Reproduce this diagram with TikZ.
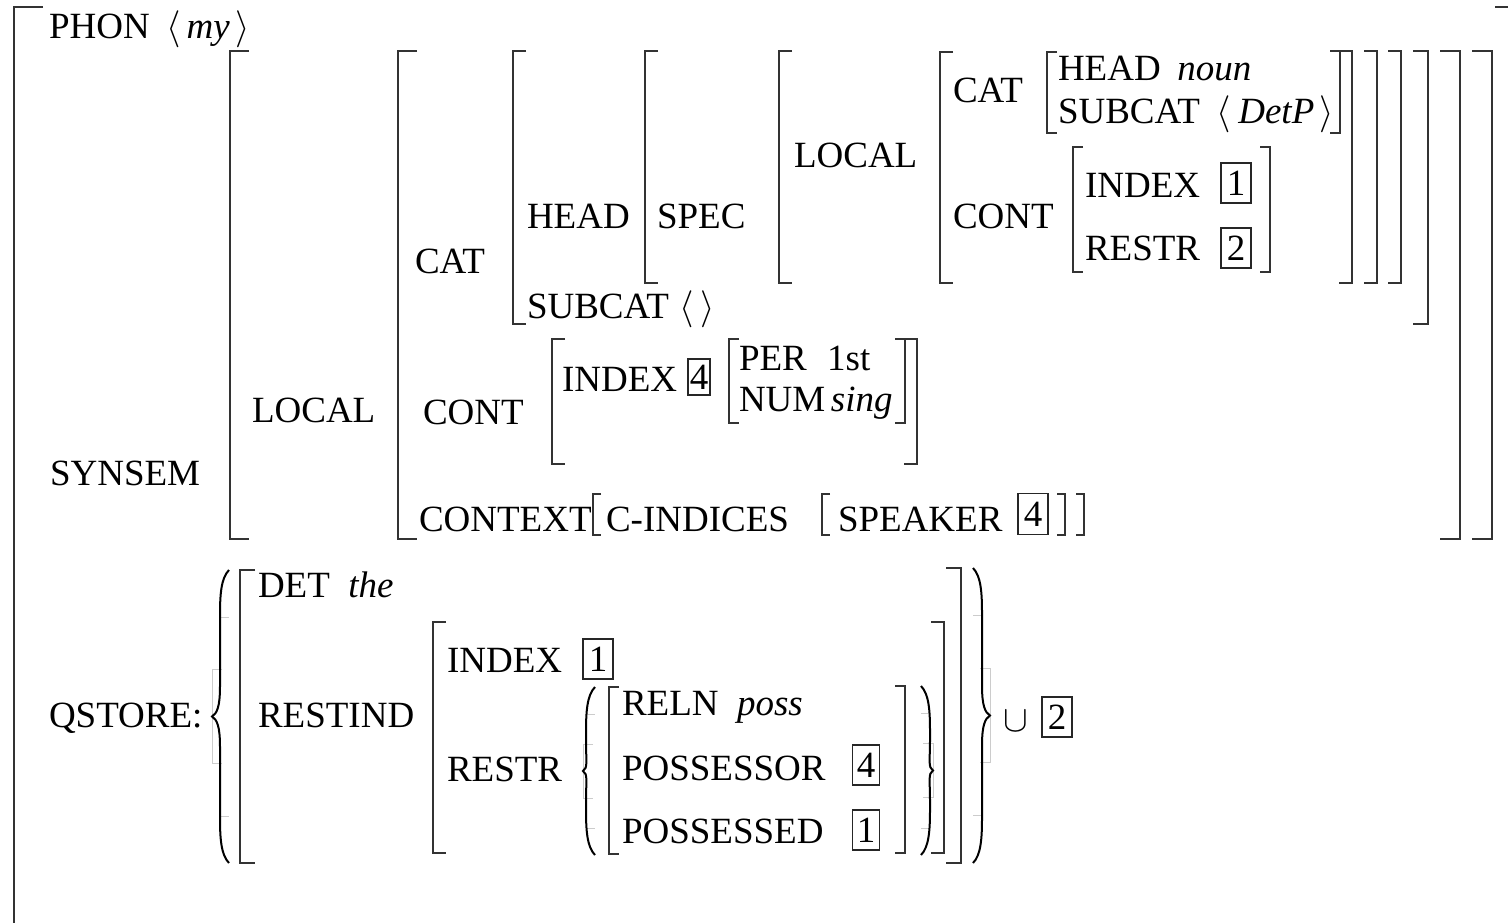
\documentclass[tikz,border=0pt]{standalone}
\usepackage{fix-cm}
\usepackage{fontspec}
\setmainfont{Liberation Serif}
\usetikzlibrary{positioning}
\tikzset{
    every picture/.style={line join=miter},
    feat/.style={anchor=base west,inner sep=0pt,outer sep=0pt},
    brk/.style={draw=black!80,line width=1.2pt},
    brc/.style={draw=black,line width=2pt},
    seam/.style={draw=black!20,line width=0.7pt},
    tagbox/.style={draw=black!85,line width=1.2pt,minimum width=30pt,
      minimum height=40pt,inner sep=0pt}
}
% square brackets: [tick]{x}{top}{bottom}
\newcommand{\brkL}[4][13]{\draw[brk] (#2+#1,#3) -- (#2,#3) -- (#2,#4) -- (#2+#1,#4);}
\newcommand{\brkR}[4][13]{\draw[brk] (#2-#1,#3) -- (#2,#3) -- (#2,#4) -- (#2-#1,#4);}
% curly braces: [width]{tip x}{top}{bottom}
\newcommand{\braceL}[4][17]{%
  \pgfmathsetmacro\bm{(#3+#4)/2}\pgfmathsetmacro\bs{0.16*(#4-#3)}
  \draw[seam] (#2+#1-8,#3+\bs) -- (#2+#1,#3+\bs) (#2+#1-8,#4-\bs) -- (#2+#1,#4-\bs)
    (#2+10,\bm-\bs) -- (#2,\bm-\bs) -- (#2,\bm+\bs) -- (#2+10,\bm+\bs);
  \draw[brc] (#2+#1,#3) .. controls (#2+#1-8,#3+8) and (#2+#1-9,#3+25) .. (#2+#1-9,#3+45)
    -- (#2+#1-9,\bm-30) .. controls (#2+#1-9,\bm-10) and (#2+5,\bm-3) .. (#2,\bm)
    .. controls (#2+5,\bm+3) and (#2+#1-9,\bm+10) .. (#2+#1-9,\bm+30)
    -- (#2+#1-9,#4-45) .. controls (#2+#1-9,#4-25) and (#2+#1-8,#4-8) .. (#2+#1,#4);}
\newcommand{\braceR}[4][17]{%
  \pgfmathsetmacro\bm{(#3+#4)/2}\pgfmathsetmacro\bs{0.16*(#4-#3)}
  \draw[seam] (#2-#1+8,#3+\bs) -- (#2-#1,#3+\bs) (#2-#1+8,#4-\bs) -- (#2-#1,#4-\bs)
    (#2-10,\bm-\bs) -- (#2,\bm-\bs) -- (#2,\bm+\bs) -- (#2-10,\bm+\bs);
  \draw[brc] (#2-#1,#3) .. controls (#2-#1+8,#3+8) and (#2-#1+9,#3+25) .. (#2-#1+9,#3+45)
    -- (#2-#1+9,\bm-30) .. controls (#2-#1+9,\bm-10) and (#2-5,\bm-3) .. (#2,\bm)
    .. controls (#2-5,\bm+3) and (#2-#1+9,\bm+10) .. (#2-#1+9,\bm+30)
    -- (#2-#1+9,#4-45) .. controls (#2-#1+9,#4-25) and (#2-#1+8,#4-8) .. (#2-#1,#4);}

\begin{document}
\begin{tikzpicture}[x=1pt,y=-1pt,font=\fontsize{37}{44}\selectfont]
  \useasboundingbox (0,0) rectangle (1508,922);

  % outermost sign
  \draw[brk] (43,7) -- (14,7) -- (14,940);
  \draw[brk] (1495,7) -- (1516,7) -- (1516,940);
  \node[feat] (phon) at (49,38) {PHON};
  \node[feat] (my) at (166,38) {$\langle$\,\textit{my}\,$\rangle$};

  % SYNSEM | LOCAL
  \node[feat] (synsem) at (50,485) {SYNSEM};
  \brkL[19]{230}{51}{539} \brkR[20]{1492}{51}{539}
  \node[feat] (local) at (252,422) {LOCAL};
  \brkL[19]{398}{51}{539} \brkR[20]{1460}{51}{539}

  % CAT
  \node[feat] (cat) at (415,273) {CAT};
  \brkL{513}{51}{324} \brkR[15]{1428}{51}{324}
  \node[feat] (head) at (527,228) {HEAD};
  \brkL{645}{51}{283} \brkR{1401}{51}{283}
  \node[feat] (spec) at (657,228) {SPEC};
  \brkL{779}{51}{283} \brkR{1377}{51}{283}
  \node[feat] (local2) at (794,167) {LOCAL};
  \brkL{940}{52}{283} \brkR{1352}{51}{283}
  \node[feat] (cat2) at (953,102) {CAT};
  \brkL[10]{1047}{52}{133} \brkR[10]{1340}{51}{133}
  \node[feat] (head2) at (1058,80) {HEAD\hspace{0.45em}\textit{noun}};
  \node[feat] (subcat2) at (1058,123)
    {SUBCAT\hspace{0.45em}$\langle$\hspace{0.2em}\textit{DetP}\hspace{0.15em}$\rangle$};
  \node[feat] (cont2) at (953,228) {CONT};
  \brkL[10]{1073}{147}{272} \brkR[10]{1270}{147}{272}
  \node[feat] (index2) at (1085,197) {INDEX};
  \node[tagbox] (tag1) at (1236,183) {1};
  \node[feat] (restr2) at (1085,260) {RESTR};
  \node[tagbox] (tag2) at (1236,248) {2};
  \node[feat] (subcat) at (527,318) {SUBCAT\hspace{0.3em}$\langle\,\rangle$};

  % CONT
  \node[feat] (cont) at (423,424) {CONT};
  \brkL{552}{339}{464} \brkR{917}{339}{464}
  \node[feat] (index) at (562,391) {INDEX};
  \node[tagbox,minimum width=22pt,minimum height=36pt] (tag4) at (699,377) {4};
  \brkL[10]{729}{339}{423} \brkR[10]{905}{339}{423}
  \node[feat] (per) at (739,370) {PER\hspace{0.55em}1st};
  \node[feat] (num) at (739,411) {NUM\hspace{0.15em}\textit{sing}};

  % CONTEXT
  \node[feat] (context) at (419,531) {CONTEXT};
  \brkL[8]{593}{494}{535} \brkR[8]{1084}{494}{535}
  \node[feat] (cind) at (606,531) {C-INDICES};
  \brkL[8]{822}{494}{535} \brkR[8]{1065}{494}{535}
  \node[feat] (speaker) at (838,531) {SPEAKER};
  \node[tagbox,minimum height=41pt] (tag4b) at (1033,514) {4};

  % QSTORE
  \node[feat] (qstore) at (49,727) {QSTORE:};
  \braceL{212}{570}{863} \braceR{990}{568}{863}
  \brkL[15]{240}{570}{863} \brkR[15]{961}{568}{863}
  \node[feat] (det) at (258,597) {DET\hspace{0.5em}\textit{the}};
  \node[feat] (restind) at (258,727) {RESTIND};
  \brkL[13]{433}{622}{853} \brkR[13]{944}{622}{853}
  \node[feat] (qindex) at (447,672) {INDEX};
  \node[tagbox] (qtag1) at (598,659) {1};
  \node[feat] (qrestr) at (447,781) {RESTR};
  \braceL[12]{583}{687}{855} \braceR[12]{933}{686}{855}
  \brkL[10]{609}{687}{854} \brkR[10]{905}{686}{853}
  \node[feat] (reln) at (622,715) {RELN\hspace{0.5em}\textit{poss}};
  \node[feat] (possor) at (622,780) {POSSESSOR};
  \node[tagbox,minimum width=27pt] (ptag4) at (866,765) {4};
  \node[feat] (possed) at (622,843) {POSSESSED};
  \node[tagbox,minimum width=27pt] (ptag1) at (866,830) {1};
  \node[feat] (cup) at (1003,731) {$\cup$};
  \node[tagbox] (utag2) at (1057,717) {2};
\end{tikzpicture}
\end{document}
